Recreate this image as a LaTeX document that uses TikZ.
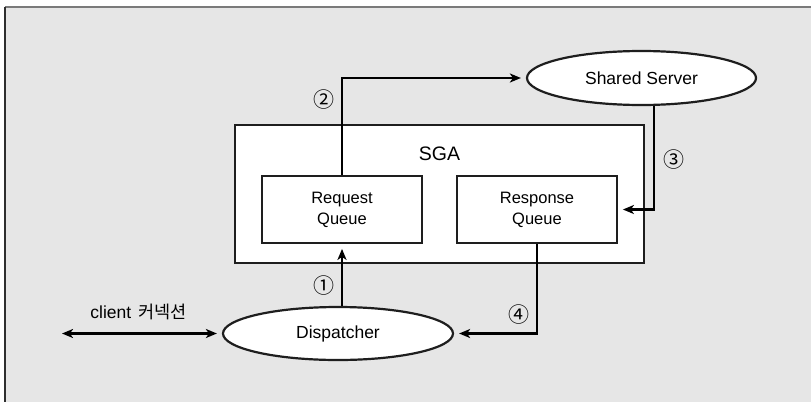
\documentclass[tikz,border=0pt]{standalone}
\usepackage{fontspec}
\setmainfont{Liberation Sans}
\newfontfamily\kr{Noto Sans CJK KR}
\usetikzlibrary{shapes.geometric,arrows.meta}
\definecolor{panel}{HTML}{E6E6E6}
\definecolor{edgetop}{HTML}{7A7A7A}
\definecolor{edgeleft}{HTML}{2E2E2E}
\definecolor{ink}{HTML}{1E1E1E}
\begin{document}
\begin{tikzpicture}[x=1pt,y=-1pt,
  tip/.tip={Stealth[length=11pt,width=9pt,inset=3pt]},
  qbox/.style={draw=ink,line width=1.8pt,fill=white,rectangle,inner sep=0pt,
    align=center,font=\fontsize{16.5}{21}\selectfont},
  proc/.style={draw=ink,line width=2.2pt,fill=white,ellipse,inner sep=0pt,
    font=\fontsize{17.5}{20}\selectfont},
  conn/.style={draw=black,line width=2.2pt,-tip,shorten >=5pt},
  num/.style={font=\kr\fontsize{21}{22}\selectfont,inner sep=0pt}
]
\useasboundingbox (0,0) rectangle (811,402);
% panel background with its frame
\fill[white] (0,0) rectangle (811,402);
\fill[panel] (5,7) rectangle (811,402);
\draw[edgetop,line width=1.6pt] (5,7) -- (811,7);
\draw[edgeleft,line width=1.6pt] (5,7) -- (5,402);

% SGA region and its queues
\node[qbox,minimum width=409pt,minimum height=138pt] (sga) at (439.5,194) {};
\node[font=\fontsize{19.5}{22}\selectfont] (sgalabel) at (439.5,154) {SGA};
\node[qbox,minimum width=160pt,minimum height=67pt] (req) at (342,209.5) {Request\\Queue};
\node[qbox,minimum width=160pt,minimum height=67pt] (resp) at (537,209.5) {Response\\Queue};

% processes
\node[proc,minimum width=229pt,minimum height=54pt] (shared) at (641.5,78) {Shared Server};
\node[proc,minimum width=230pt,minimum height=53pt] (disp) at (338,333.5) {Dispatcher};

% message flow
\draw[conn] (req.south |- disp.north) -- (req.south);
\draw[conn] (req.north) |- (shared.west);
\draw[conn] ([xshift=12.5pt]shared.south) |- (resp.east);
\draw[conn] (resp.south) |- (disp.east);
\coordinate (client) at (62,333.5);
\draw[conn,tip-tip] (client) -- (disp.west);

% labels
\node[font=\fontsize{17.5}{20}\selectfont] (clientlabel) at (138.5,312) {client\hspace{7pt}{\kr 커넥션}};
\node[num] (n1) at (324,286) {①};
\node[num] (n2) at (324,100) {②};
\node[num] (n3) at (674,160) {③};
\node[num] (n4) at (519,315) {④};
\end{tikzpicture}
\end{document}
